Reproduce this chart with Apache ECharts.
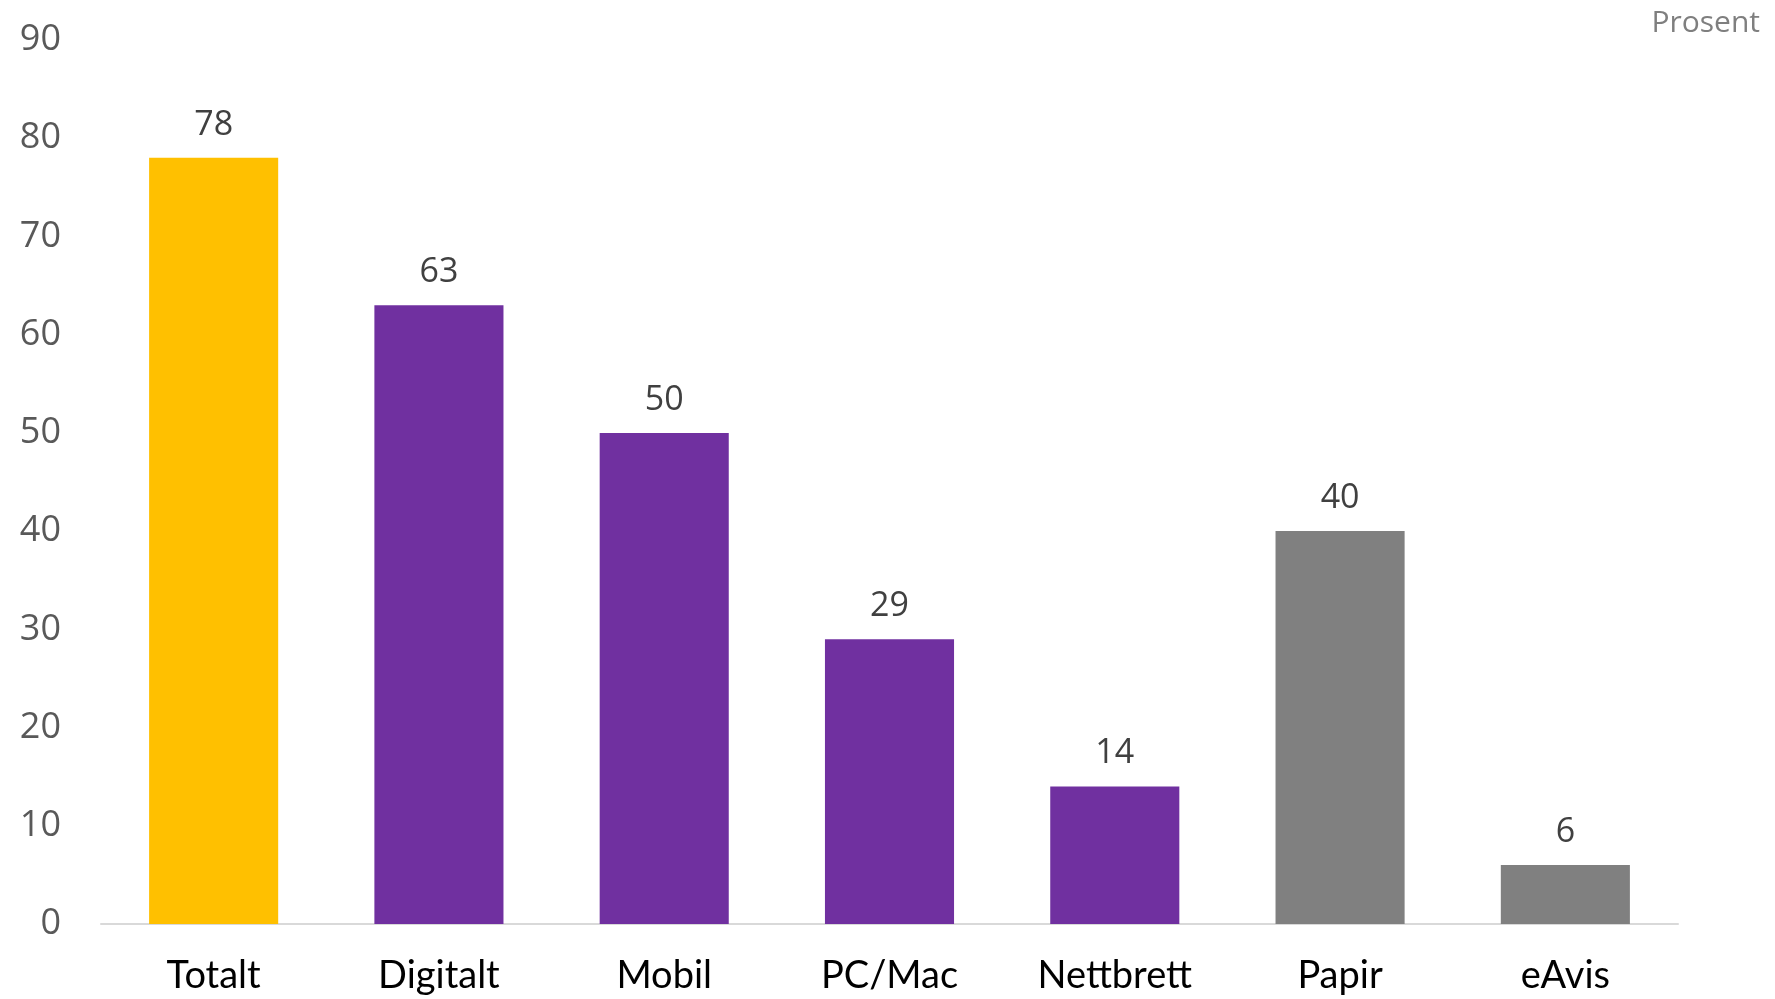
<!DOCTYPE html>
<html>
<head>
<meta charset="utf-8">
<script src="https://cdn.jsdelivr.net/npm/echarts@6/dist/echarts.min.js"></script>
<style>
html,body{margin:0;padding:0;background:#fff;}
#chart{width:1775px;height:999px;}
</style>
</head>
<body>
<div id="chart"></div>
<script>
const categories = ['Totalt', 'Digitalt', 'Mobil', 'PC/Mac', 'Nettbrett', 'Papir', 'eAvis'];
const values = [78, 63, 50, 29, 14, 40, 6];
const barColors = ['#FFC000', '#7030A0', '#7030A0', '#7030A0', '#7030A0', '#808080', '#808080'];
const yTicks = [0, 10, 20, 30, 40, 50, 60, 70, 80, 90];
const unitLabel = 'Prosent';

const chart = echarts.init(document.getElementById('chart'), null, {renderer: 'canvas'});
chart.setOption({
  animation: false,
  backgroundColor: '#ffffff',
  title: {
    text: unitLabel,
    right: 10,
    top: 3,
    textStyle: {fontFamily: 'Open Sans', fontSize: 30, fontWeight: 'normal', color: '#7f7f7f'}
  },
  grid: {left: 101, right: 97, top: 40, bottom: 75, containLabel: false},
  xAxis: {
    type: 'category',
    data: categories,
    axisLine: {lineStyle: {color: '#D9D9D9', width: 2}},
    axisTick: {show: false},
    axisLabel: {fontFamily: 'Lato', fontSize: 38, color: '#000000', margin: 33}
  },
  yAxis: {
    type: 'value',
    min: yTicks[0],
    max: yTicks[yTicks.length - 1],
    interval: 10,
    axisLine: {show: false},
    axisTick: {show: false},
    splitLine: {show: false},
    axisLabel: {fontFamily: 'Open Sans', fontSize: 36, color: '#595959', margin: 40}
  },
  series: [{
    type: 'bar',
    data: values.map((v, i) => ({value: v, itemStyle: {color: barColors[i]}})),
    barWidth: '57.3%',
    label: {
      show: true,
      position: 'top',
      distance: 16,
      fontFamily: 'Open Sans',
      fontSize: 34,
      color: '#404040'
    }
  }]
});
</script>
</body>
</html>
